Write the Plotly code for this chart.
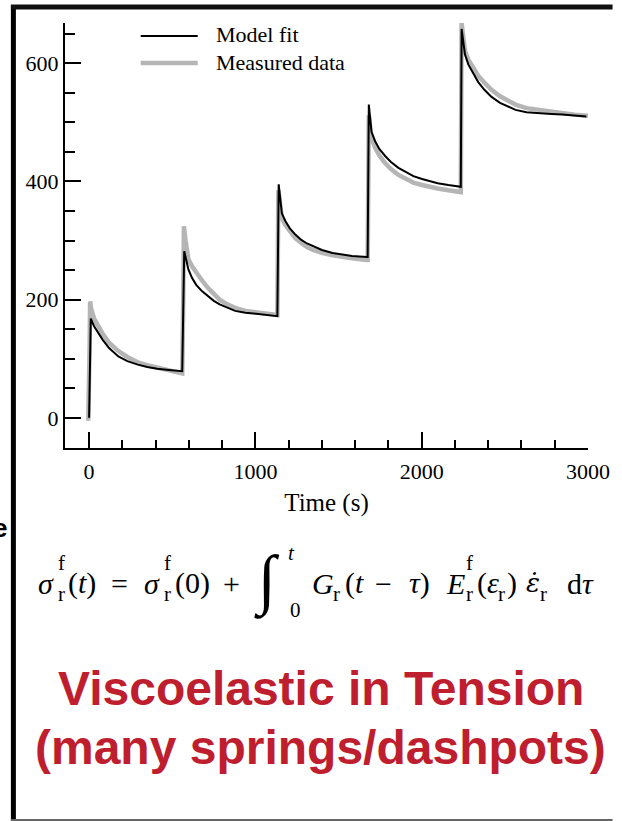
import plotly.graph_objects as go

# ---------------- data ----------------
model_t = [0, 10, 30, 59, 82, 120, 176, 230, 293, 350, 410, 480, 555,
           560, 572, 597, 620, 644, 680, 714, 750, 785, 830, 878, 940, 995, 1060, 1128,
           1132, 1140, 1150, 1159, 1180, 1206, 1240, 1276, 1310, 1347, 1400, 1464, 1520, 1581, 1670,
           1675, 1682, 1690, 1698, 1720, 1745, 1780, 1815, 1860, 1909, 1950, 2002, 2050, 2096, 2160, 2230,
           2235, 2240, 2250, 2260, 2280, 2307, 2340, 2377, 2420, 2471, 2520, 2564, 2630, 2705, 2780, 2845, 2920, 2990]
model_v = [0, 168, 155, 142, 132, 118, 104, 96, 90, 86, 83, 81, 79,
           79, 282, 251, 236, 225, 214, 206, 198, 192, 186, 181, 178, 176, 174, 172,
           172, 395, 362, 346, 333, 321, 310, 301, 295, 290, 284, 279, 276, 274, 272,
           272, 530, 505, 484, 468, 455, 443, 433, 423, 415, 409, 404, 400, 397, 394, 391,
           391, 658, 635, 615, 598, 584, 568, 555, 543, 533, 526, 521, 517, 515, 514, 513, 512, 510]

meas_t = [-5, 0, 3, 6, 12, 30, 59, 82, 120, 176, 230, 293, 350, 410, 480, 555,
          560, 566, 570, 580, 597, 620, 644, 680, 714, 750, 785, 830, 878, 940, 995, 1060, 1128,
          1132, 1138, 1150, 1159, 1180, 1206, 1240, 1276, 1310, 1347, 1400, 1464, 1520, 1581, 1670,
          1675, 1682, 1690, 1698, 1720, 1745, 1780, 1815, 1860, 1909, 1950, 2002, 2050, 2096, 2160, 2230,
          2235, 2240, 2250, 2260, 2280, 2307, 2340, 2377, 2420, 2471, 2520, 2564, 2630, 2705, 2780, 2845, 2920, 3000]
meas_v = [-5, 40, 120, 197, 185, 168, 152, 142, 127, 113, 103, 94, 89, 85, 80, 75,
          75, 200, 324, 300, 268, 256, 245, 232, 220, 209, 200, 192, 186, 181, 179, 177, 174,
          174, 385, 350, 338, 326, 315, 304, 296, 289, 284, 279, 275, 272, 270, 267,
          267, 512, 490, 473, 457, 444, 431, 421, 411, 404, 398, 394, 390, 388, 385, 382,
          382, 668, 645, 621, 606, 593, 579, 567, 555, 544, 536, 530, 524, 521, 518, 515, 513, 511]

x_ticks = [0, 1000, 2000, 3000]
y_ticks = [0, 200, 400, 600]
series_names = ["Model fit", "Measured data"]
x_title = "Time (s)"
title_lines = ["Viscoelastic in Tension", "(many springs/dashpots)"]

MODEL_COLOR, MODEL_WIDTH = "black", 2
MEAS_COLOR, MEAS_WIDTH = "#b5b5b5", 4.5

# ---------------- layout geometry ----------------
W, H = 622, 821
L, R, T, B = 65, 597, 23, 448   # plot area in pixels
PW, PH = R - L, B - T


def px(x):
    return (x - L) / PW


def py(y):
    return (B - y) / PH


SERIF = "Liberation Serif"
SANS = "Liberation Sans"

fig = go.Figure()
fig.add_trace(go.Scatter(x=meas_t, y=meas_v, mode="lines", name=series_names[1],
                         line=dict(color=MEAS_COLOR, width=MEAS_WIDTH), showlegend=False))
fig.add_trace(go.Scatter(x=model_t, y=model_v, mode="lines", name=series_names[0],
                         line=dict(color=MODEL_COLOR, width=MODEL_WIDTH), showlegend=False))

axis_common = dict(showline=True, linecolor="black", linewidth=2, ticks="inside",
                   tickwidth=2, tickcolor="black", showgrid=False, zeroline=False,
                   tickfont=dict(family=SERIF, size=22, color="black"))

fig.update_xaxes(range=[-145, 3000], tickvals=x_ticks, ticklen=16,
                 minor=dict(tick0=0, dtick=200, ticks="inside", ticklen=8, tickwidth=2,
                            tickcolor="black", showgrid=False),
                 title=dict(text=x_title, font=dict(family=SERIF, size=25, color="black"), standoff=10),
                 ticklabelstandoff=3, **axis_common)
fig.update_yaxes(range=[-51, 668], tickvals=y_ticks, ticklen=16,
                 minor=dict(tick0=0, dtick=50, ticks="inside", ticklen=10, tickwidth=2,
                            tickcolor="black", showgrid=False),
                 ticklabelstandoff=0, **axis_common)

fig.update_layout(
    width=W, height=H, autosize=False,
    margin=dict(l=L, r=W - R, t=T, b=H - B, pad=0),
    paper_bgcolor="white", plot_bgcolor="white",
    showlegend=False,
)

# ---------------- frame (slide border) + legend samples ----------------
shapes = [
    dict(type="line", xref="paper", yref="paper", x0=px(12.5), x1=px(12.5), y0=py(5), y1=py(821),
         line=dict(color="black", width=5)),
    dict(type="line", xref="paper", yref="paper", x0=px(10), x1=px(622), y0=py(7), y1=py(7),
         line=dict(color="#111111", width=5)),
    dict(type="line", xref="paper", yref="paper", x0=px(10), x1=px(622), y0=py(820), y1=py(820),
         line=dict(color="#666666", width=2)),
    dict(type="line", xref="paper", yref="paper", x0=px(142), x1=px(200), y0=py(36), y1=py(36),
         line=dict(color=MODEL_COLOR, width=MODEL_WIDTH)),
    dict(type="line", xref="paper", yref="paper", x0=px(142), x1=px(200), y0=py(63), y1=py(63),
         line=dict(color=MEAS_COLOR, width=MEAS_WIDTH)),
]
fig.update_layout(shapes=shapes)

annotations = []
# legend texts
for cy, name in zip([35, 62], series_names):
    annotations.append(dict(x=px(217), y=py(cy), xref="paper", yref="paper", text=name,
                            showarrow=False, xanchor="left", yanchor="middle",
                            font=dict(family=SERIF, size=22, color="black")))

# ---------------- equation pieces (centre x, centre y, text, size, family) ----------------
MAIN_Y, SUP_Y, SUB_Y = 583, 563, 594
SS = 21
eq = [
    (45.5, MAIN_Y, "<i>σ</i>", 30), (61, SUP_Y, "f", SS), (61, SUB_Y, "r", SS),
    (82, MAIN_Y, "(<i>t</i>)", 30), (120, MAIN_Y, "=", 30),
    (154, MAIN_Y, "<i>σ</i>", 30), (169, SUP_Y, "f", SS), (169, SUB_Y, "r", SS),
    (194.5, MAIN_Y, "(0)", 30), (234, MAIN_Y, "+", 30),
    (270, 580, "∫", 66), (295, 553, "<i>t</i>", SS), (299, 610, "0", SS),
    (327, MAIN_Y, "<i>G</i>", 30), (341, SUB_Y, "r", SS),
    (359, MAIN_Y, "(<i>t</i>", 30), (388.5, MAIN_Y, "−", 30), (426, MAIN_Y, "<i>τ</i>)", 30),
    (462, MAIN_Y, "<i>E</i>", 30), (476, SUP_Y, "f", SS), (476, SUB_Y, "r", SS),
    (495, MAIN_Y, "(<i>ε</i>", 30), (509, SUB_Y, "r", SS), (520, MAIN_Y, ")", 30),
    (541, MAIN_Y, "<i>ε̇</i>", 30), (552, SUB_Y, "r", SS),
    (589, MAIN_Y, "d<i>τ</i>", 30),
]
for cx, cy, txt, sz in eq:
    fam = "DejaVu Serif" if "\u0307" in txt else SERIF
    if fam != SERIF:
        sz = 26
    annotations.append(dict(x=px(cx), y=py(cy), xref="paper", yref="paper", text=txt,
                            showarrow=False, xanchor="center", yanchor="middle",
                            font=dict(family=fam, size=sz, color="black")))

# title lines
for cy, txt in zip([689, 747], title_lines):
    annotations.append(dict(x=px(325), y=py(cy), xref="paper", yref="paper", text=f"<b>{txt}</b>",
                            showarrow=False, xanchor="center", yanchor="middle",
                            font=dict(family=SANS, size=48, color="#BE1E2D")))

# cut-off letter at the left edge
annotations.append(dict(x=px(8), y=py(528), xref="paper", yref="paper", text="<b>e</b>",
                        showarrow=False, xanchor="right", yanchor="middle",
                        font=dict(family=SANS, size=26, color="black")))
fig.update_layout(annotations=annotations)

fig.write_html("out.html", config={"displayModeBar": False},
               post_script="document.body.style.margin='0px';document.body.style.overflow='hidden';")
